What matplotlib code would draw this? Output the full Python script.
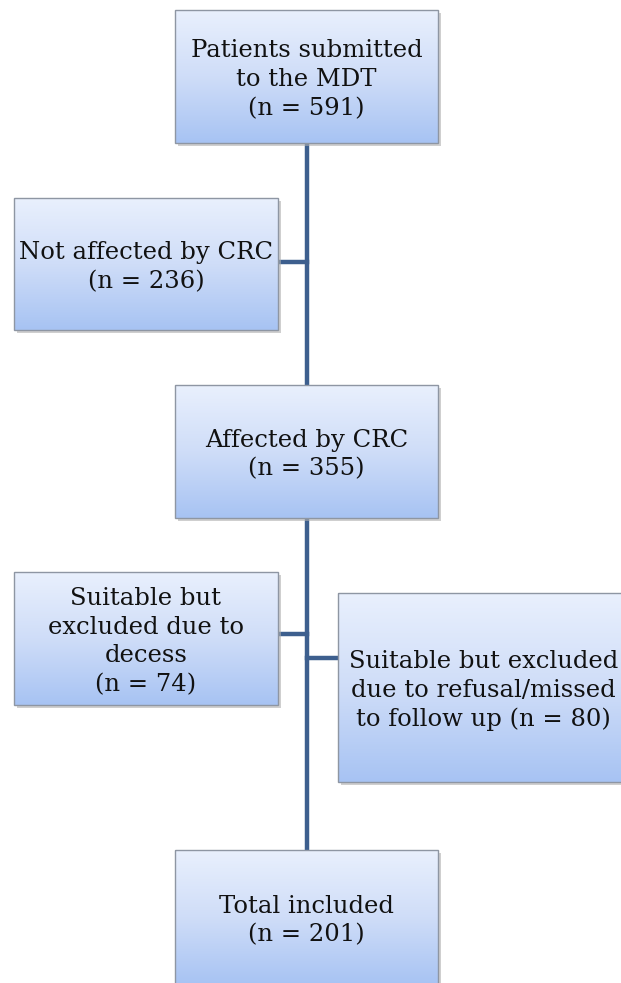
import numpy as np
import matplotlib.pyplot as plt
from matplotlib.patches import Rectangle
from matplotlib.colors import LinearSegmentedColormap

# Flowchart content
labels = [
    "Patients submitted\nto the MDT",
    "Not affected by CRC",
    "Affected by CRC",
    "Suitable but\nexcluded due to\ndecess",
    "Suitable but excluded\ndue to refusal/missed\nto follow up",
    "Total included",
]
counts = [591, 236, 355, 74, 80, 201]
inline_count = [False, False, False, False, True, False]

# Layout (pixel coordinates: x0, y0, x1, y1)
boxes = [
    (175, 10, 438, 143),
    (14, 198, 278, 330),
    (175, 385, 438, 518),
    (14, 572, 278, 705),
    (338, 593, 630, 782),
    (175, 850, 438, 985),
]
spine_x = 307
line_color = "#3d5f8e"

W, H = 621, 983
fig = plt.figure(figsize=(W / 100, H / 100), dpi=100)
ax = fig.add_axes([0, 0, 1, 1])
ax.set_xlim(0, W)
ax.set_ylim(H, 0)
ax.axis("off")

# light at top, deeper blue at bottom
grad = LinearSegmentedColormap.from_list("g", ["#a7c3f3", "#cfddf8", "#e9f0fd"])
g = np.linspace(0, 1, 256).reshape(-1, 1)

# connectors
ax.plot([spine_x, spine_x], [143, 385], color=line_color, lw=3.2, zorder=1, solid_capstyle="butt")
ax.plot([spine_x, spine_x], [518, 850], color=line_color, lw=3.2, zorder=1, solid_capstyle="butt")
ax.plot([278, spine_x], [262, 262], color=line_color, lw=3.2, zorder=1)
ax.plot([278, spine_x], [634, 634], color=line_color, lw=3.2, zorder=1)
ax.plot([spine_x, 338], [658, 658], color=line_color, lw=3.2, zorder=1)

for (x0, y0, x1, y1), lab, n, inl in zip(boxes, labels, counts, inline_count):
    # shadow
    ax.add_patch(Rectangle((x0 + 3, y0 + 3), x1 - x0, y1 - y0, facecolor="#b0b0b0",
                           edgecolor="none", alpha=0.6, zorder=2))
    im = ax.imshow(g, cmap=grad, extent=(x0, x1, y0, y1), aspect="auto", zorder=3,
                   origin="upper")
    rect = Rectangle((x0, y0), x1 - x0, y1 - y0, facecolor="none",
                     edgecolor="#8e96a3", lw=1.0, zorder=4)
    ax.add_patch(rect)
    im.set_clip_path(rect)
    text = f"{lab} (n = {n})" if inl else f"{lab}\n(n = {n})"
    cx = (x0 + min(x1, W)) / 2 + (4 if inl else 0)
    ax.text(cx, (y0 + y1) / 2 + 3, text, ha="center", va="center", fontsize=17.5,
            family="DejaVu Serif", color="#111111", linespacing=1.33, zorder=5)

fig.savefig("out.png", dpi=100)
